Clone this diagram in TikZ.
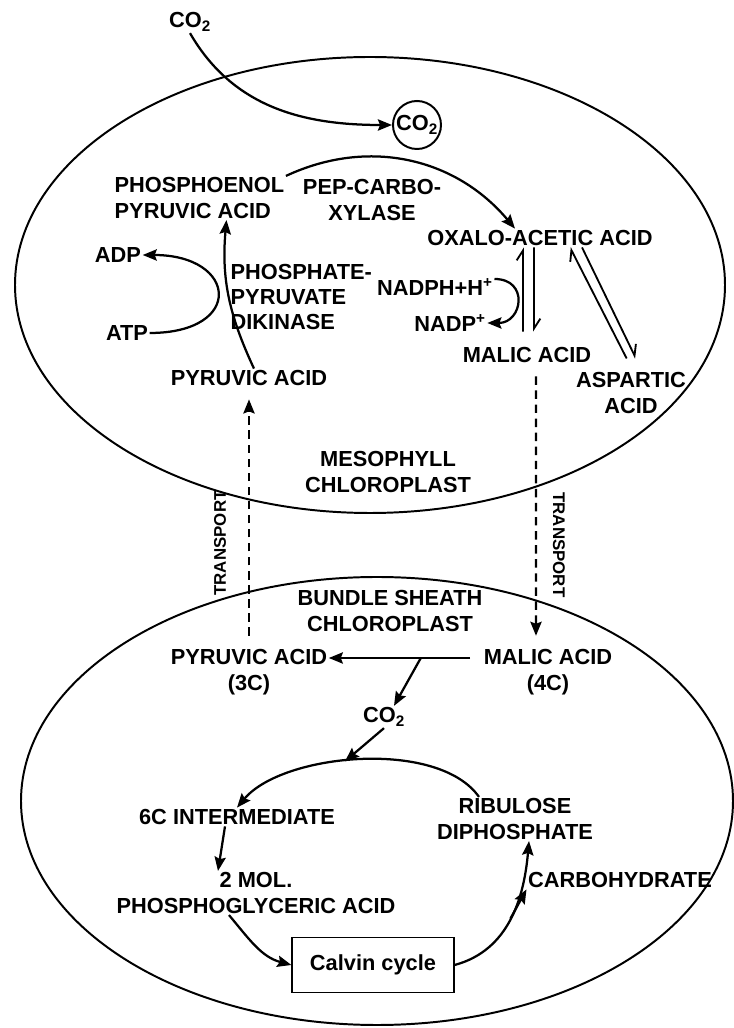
\documentclass[tikz,border=0pt]{standalone}
\usepackage{fontspec}
\setmainfont{Liberation Sans}
\usepackage{tikz}
\usetikzlibrary{arrows.meta}

\begin{document}
\begin{tikzpicture}[
  x=0.025cm, y=0.025cm,
  lbl/.style={font=\fontsize{15.5}{18}\selectfont\bfseries, inner sep=1pt, align=center},
  small/.style={font=\fontsize{12}{14}\selectfont\bfseries, inner sep=1pt},
  wall/.style={line width=1.4pt},
  arr/.style={line width=1.6pt, -{Stealth[length=10pt,width=8pt,inset=1.5pt]}},
  tarr/.style={arr, dash pattern=on 6pt off 4pt, shorten <=0.3cm, shorten >=0.3cm},
  harp/.style={line width=1.3pt, -{Straight Barb[harpoon,length=7pt,width=9pt]}},
  cbox/.style={draw, line width=1.4pt, minimum width=4.03cm, minimum height=1.375cm, font=\fontsize{15.5}{18}\selectfont\bfseries}
]
\useasboundingbox (0,0) rectangle (734,1028);
\draw[wall] (370,743) ellipse [x radius=355, y radius=228];
\draw[wall] (377,227) ellipse [x radius=356, y radius=224];

% mesophyll chloroplast
\node[lbl] (co2out) at (190,1006) {CO\textsubscript{2}};
\node[lbl, draw, circle, line width=1.4pt, minimum size=1.2cm, inner sep=0pt] (co2in) at (417,903) {CO\textsubscript{2}};
\node[lbl, align=left, anchor=west] (pep) at (113,830) {PHOSPHOENOL\\PYRUVIC ACID};
\node[lbl] (pepc) at (372,828) {PEP-CARBO-\\XYLASE};
\node[lbl] (oaa) at (540,790) {OXALO-ACETIC ACID};
\node[lbl] (adp) at (118,773) {ADP};
\node[lbl] (atp) at (127,695) {ATP};
\node[lbl, align=left, anchor=west] (ppdk) at (229,731) {PHOSPHATE-\\PYRUVATE\\DIKINASE};
\node[lbl] (nadph) at (435,741) {NADPH+H\textsuperscript{+}};
\node[lbl] (nadp) at (450,705) {NADP\textsuperscript{+}};
\node[lbl] (malm) at (527,673) {MALIC ACID};
\node[lbl] (asp) at (631,635) {ASPARTIC\\ACID};
\node[lbl] (pyrm) at (249,650) {PYRUVIC ACID};
\node[lbl] (meso) at (388,556) {MESOPHYLL\\CHLOROPLAST};

\node[small, rotate=90] (tl) at (220,485) {TRANSPORT};
\node[small, rotate=-90] (tr) at (559,483) {TRANSPORT};

% bundle sheath chloroplast
\node[lbl] (bs) at (390,417) {BUNDLE SHEATH\\CHLOROPLAST};
\node[lbl] (pyrb) at (249,356) {PYRUVIC ACID\\(3C)};
\node[lbl] (malb) at (548,356) {MALIC ACID\\(4C)};
\node[lbl] (co2b) at (384,311) {CO\textsubscript{2}};
\node[lbl] (sixc) at (237,211) {6C INTERMEDIATE};
\node[lbl] (rudp) at (515,209) {RIBULOSE\\DIPHOSPHATE};
\node[lbl] (pga) at (256,135) {2 MOL.\\PHOSPHOGLYCERIC ACID};
\node[cbox] (calvin) at (373,63) {Calvin cycle};
\node[lbl] (carb) at (620,148) {CARBOHYDRATE};

\draw[arr] (co2out.south) to[out=-60,in=180] (co2in.west);
\draw[arr] (pep.north east) to[out=25,in=130] ([xshift=-0.625cm]oaa.north);
\draw[arr] ([xshift=0.125cm]pyrm.north) to[out=115,in=-95] ([xshift=0.675cm]pep.south);
\draw[arr] (atp.east) .. controls +(95,0) and +(95,0) .. (adp.east);
\draw[arr] ([yshift=0.2cm]nadph.east) .. controls +(35,0) and +(35,0) .. (nadp.east);
\draw[harp, shorten <=0.35cm] ([xshift=-0.1cm]malm.north) -- ([xshift=-0.425cm]oaa.south);
\draw[harp, shorten >=0.35cm] ([xshift=-0.15cm]oaa.south) -- ([xshift=0.175cm]malm.north);
\draw[harp, shorten <=0.35cm] ([xshift=0.05cm]asp.north) -- ([xshift=0.75cm]oaa.south);
\draw[harp, shorten >=0.35cm] ([xshift=1.05cm]oaa.south) -- ([xshift=0.275cm]asp.north);

\draw[tarr] (pyrb.north) -- (pyrm.south);
\draw[tarr] ([xshift=0.225cm]malm.south) -- ([xshift=-0.3cm]malb.north);

\draw[arr, shorten <=0.3cm] ([yshift=0.35cm]malb.west) -- coordinate[pos=0.4] (br) ([yshift=0.35cm]pyrb.east);
\draw[arr] (br) -- ([xshift=0.25cm]co2b.north);
\draw[arr] ([xshift=-0.9cm]rudp.north) to[out=125,in=50,looseness=0.75] coordinate[pos=0.55] (ctop) (sixc.north);
\draw[arr] (co2b.south) -- (ctop);
\draw[arr] ([xshift=-0.3cm]sixc.south) -- ([xshift=-0.95cm]pga.north);
\draw[arr] ([xshift=-0.675cm]pga.south) to[out=-50,in=165] (calvin.west);
\draw[arr] (calvin.east) to[out=15,in=-95] coordinate[pos=0.5] (cb) ([xshift=0.35cm]rudp.south);
\draw[arr] (cb) -- (carb.south west);
\end{tikzpicture}
\end{document}
